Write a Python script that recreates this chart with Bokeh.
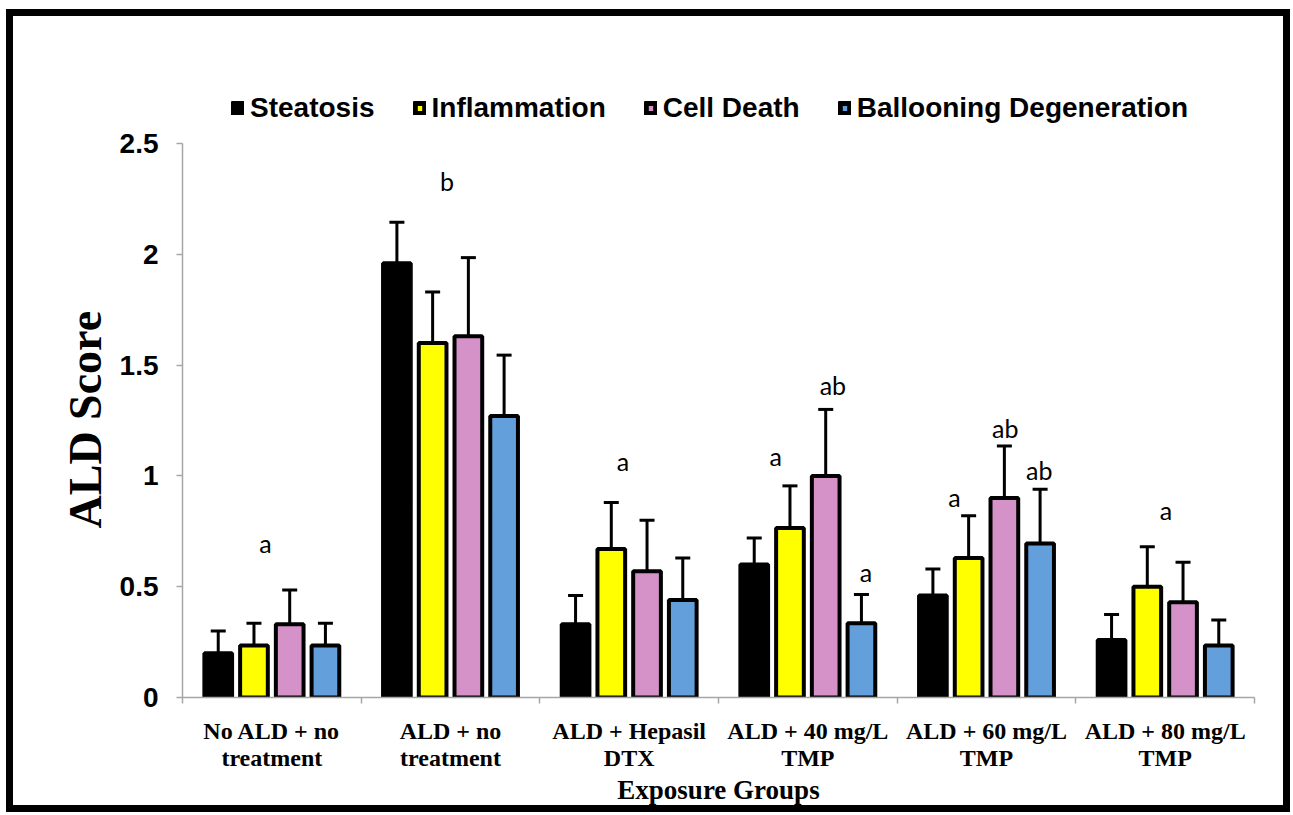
from bokeh.plotting import figure
from bokeh.models import (Range1d, FixedTicker, Legend, LegendItem, Whisker, TeeHead,
                          ColumnDataSource, Title)
from bokeh.core.properties import value
from bokeh.embed import file_html
from bokeh.resources import INLINE

# ---------------- data ----------------
groups = ["No ALD + no\ntreatment", "ALD + no\ntreatment", "ALD + Hepasil\nDTX",
          "ALD + 40 mg/L\nTMP", "ALD + 60 mg/L\nTMP", "ALD + 80 mg/L\nTMP"]
series = ["Steatosis", "Inflammation", "Cell Death", "Ballooning Degeneration"]
colors = ["#000000", "#FFFF00", "#D592C8", "#639FDB"]

steatosis = [0.20, 1.96, 0.33, 0.60, 0.46, 0.26]
inflammation = [0.235, 1.60, 0.67, 0.765, 0.63, 0.50]
cell_death = [0.33, 1.63, 0.57, 1.00, 0.90, 0.43]
ballooning = [0.235, 1.27, 0.44, 0.335, 0.695, 0.235]

steatosis_err = [0.10, 0.185, 0.13, 0.12, 0.12, 0.115]
inflammation_err = [0.10, 0.23, 0.21, 0.19, 0.19, 0.18]
cell_death_err = [0.155, 0.355, 0.23, 0.30, 0.235, 0.18]
ballooning_err = [0.10, 0.275, 0.19, 0.13, 0.245, 0.115]

values = [steatosis, inflammation, cell_death, ballooning]
errors = [steatosis_err, inflammation_err, cell_death_err, ballooning_err]

# significance letters: text, x position (group units), y position (score units)
ann_text = ["a", "b", "a", "a", "ab", "a", "a", "ab", "ab", "a"]
ann_x = [0.465, 1.48, 2.465, 3.32, 3.64, 3.825, 4.32, 4.605, 4.795, 5.505]
ann_y = [0.695, 2.33, 1.065, 1.09, 1.41, 0.565, 0.905, 1.215, 1.025, 0.845]

y_ticks = [0, 0.5, 1, 1.5, 2, 2.5]
y_max = 2.5

# ---------------- layout (pixels) ----------------
W, H = 1284, 803
origin_x, origin_y = 13, 16          # canvas origin on the page (inside border)
frame_left, frame_right = 182, 1254  # page px
frame_top_px, axis_top_px, axis_bottom_px = 60, 143, 697
y_end = y_max * (axis_bottom_px - frame_top_px) / (axis_bottom_px - axis_top_px)

p = figure(width=W, height=H, output_backend="svg", toolbar_location=None,
           x_range=Range1d(0, len(groups)), y_range=Range1d(0, y_end),
           min_border_left=frame_left - origin_x,
           min_border_right=W - (frame_right - origin_x),
           min_border_top=frame_top_px - origin_y,
           min_border_bottom=H - (axis_bottom_px - origin_y))
p.styles = {"border": "7px solid black", "margin-left": "6px", "margin-top": "9px"}
p.outline_line_color = None
p.xgrid.grid_line_color = None
p.ygrid.grid_line_color = None
p.background_fill_color = "white"
p.border_fill_color = "white"

slot = 0.2
bar_w = 0.155
offsets = [(-1.5 + i) * slot for i in range(4)]

nan = float("nan")
items = []
for i, (name, col) in enumerate(zip(series, colors)):
    xs = [g + 0.5 + offsets[i] for g in range(len(groups))]
    tops = values[i]
    uppers = [v + e for v, e in zip(values[i], errors[i])]
    src = ColumnDataSource(dict(x=xs, top=tops, upper=uppers))
    w = Whisker(source=src, base="x", upper="upper", lower="top",
                line_color="black", line_width=3,
                upper_head=TeeHead(size=15, line_width=3, line_color="black"),
                lower_head=None, level="glyph")
    p.add_layout(w)
    p.vbar(x="x", top="top", width=bar_w, source=src, fill_color=col,
           line_color="black", line_width=4)
    # legend swatch style (thick outlined square, as in the original key); not drawn in plot
    proxy = p.vbar(x=[nan], top=[nan], width=bar_w, fill_color=col,
                   line_color="black", line_width=6)
    items.append(LegendItem(label=name, renderers=[proxy]))

# annotations
p.text(x=ann_x, y=ann_y, text=ann_text, text_font=value("Lato"),
       text_font_size="25px", text_align="center", text_baseline="middle",
       text_color="black")

# legend (inside the extended frame, above the 2.5 line)
legend = Legend(items=items, orientation="horizontal",
                location=(49, axis_bottom_px - 124),
                glyph_width=13, glyph_height=14, label_standoff=6, spacing=38,
                padding=0, margin=0, border_line_color=None,
                background_fill_alpha=0,
                label_text_font="Liberation Sans", label_text_font_style="bold",
                label_text_font_size="28px", label_text_color="black")
p.add_layout(legend, "center")

# y axis
p.yaxis.bounds = (0, y_max)
p.yaxis.ticker = FixedTicker(ticks=y_ticks)
p.yaxis.major_label_overrides = {t: f"{t:g}" for t in y_ticks}
p.yaxis.minor_tick_line_color = None
p.yaxis.axis_line_color = "#A6A6A6"
p.yaxis.axis_line_width = 1.5
p.yaxis.major_tick_line_color = "#A6A6A6"
p.yaxis.major_tick_line_width = 1.5
p.yaxis.major_tick_in = 0
p.yaxis.major_tick_out = 6
p.yaxis.major_label_standoff = 18
p.yaxis.major_label_text_font = "Liberation Sans"
p.yaxis.major_label_text_font_style = "bold"
p.yaxis.major_label_text_font_size = "28px"
p.yaxis.major_label_text_color = "black"

ytitle = Title(text="ALD Score", align="left", offset=axis_bottom_px - 528, standoff=12,
               text_font="Liberation Serif", text_font_style="bold",
               text_font_size="46px", text_color="black")
p.add_layout(ytitle, "left")

# x axis
centers = [g + 0.5 for g in range(len(groups))]
bounds = list(range(len(groups) + 1))
p.xaxis.ticker = FixedTicker(ticks=centers, minor_ticks=bounds)
p.xaxis.major_label_overrides = {c: g for c, g in zip(centers, groups)}
p.xaxis.major_tick_line_color = None
p.xaxis.major_tick_in = 0
p.xaxis.major_tick_out = 0
p.xaxis.minor_tick_line_color = "#A6A6A6"
p.xaxis.minor_tick_line_width = 1.5
p.xaxis.minor_tick_in = 0
p.xaxis.minor_tick_out = 6
p.xaxis.axis_line_color = "#A6A6A6"
p.xaxis.axis_line_width = 1.5
p.xaxis.major_label_standoff = 14
p.xaxis.major_label_text_font = "Liberation Serif"
p.xaxis.major_label_text_font_style = "bold"
p.xaxis.major_label_text_font_size = "24px"
p.xaxis.major_label_text_color = "black"
p.xaxis.major_label_text_line_height = 1.05
p.xaxis.axis_label = "Exposure Groups"
p.xaxis.axis_label_text_font = "Liberation Serif"
p.xaxis.axis_label_text_font_style = "bold"
p.xaxis.axis_label_text_font_size = "27px"
p.xaxis.axis_label_text_color = "black"
p.xaxis.axis_label_standoff = 1

open("out.html", "w").write(file_html(p, INLINE))
